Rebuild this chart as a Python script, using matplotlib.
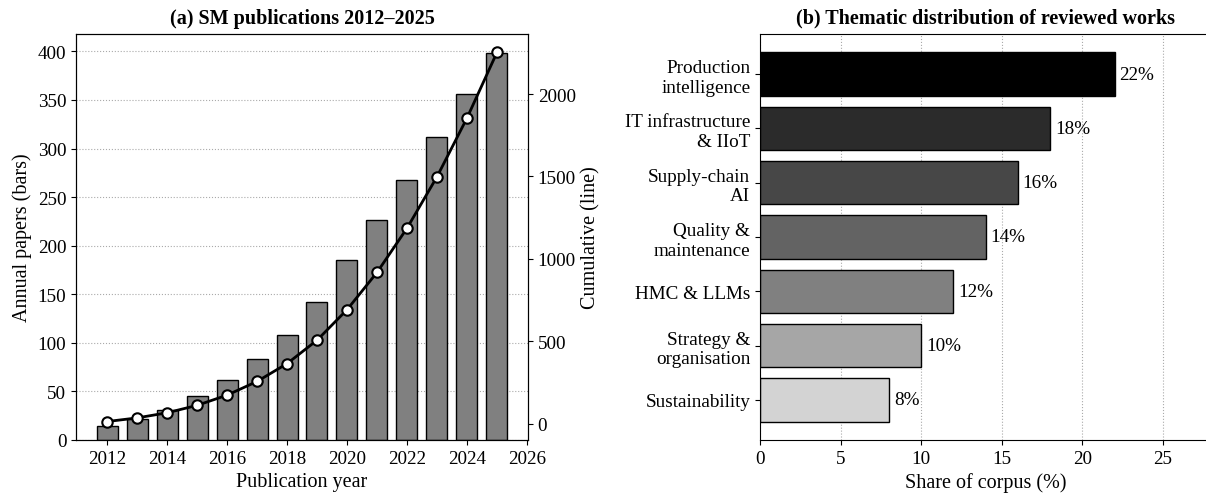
import numpy as np
import matplotlib
matplotlib.use("Agg")
from matplotlib import pyplot as plt

plt.rcParams["font.family"] = ["Liberation Serif", "DejaVu Serif"]

# (a) publications per year
years = [2012, 2013, 2014, 2015, 2016, 2017, 2018, 2019, 2020, 2021, 2022, 2023, 2024, 2025]
annual = [14, 22, 31, 45, 62, 83, 108, 142, 185, 226, 268, 312, 356, 398]
cumulative = np.cumsum(annual)

# (b) thematic shares
themes = ["Production\nintelligence", "IT infrastructure\n& IIoT", "Supply-chain\nAI",
          "Quality &\nmaintenance", "HMC & LLMs", "Strategy &\norganisation", "Sustainability"]
shares = [22, 18, 16, 14, 12, 10, 8]
theme_colors = ["#000000", "#2b2b2b", "#474747", "#636363", "#808080", "#a6a6a6", "#d3d3d3"]

tick_fs = 13.8
label_fs = 14.5
title_fs = 14.5

fig = plt.figure(figsize=(12.06, 5.02), dpi=100)

ax1 = fig.add_axes([76/1206, 61/502, 452/1206, 406/502])
ax1.set_axisbelow(True)
ax1.bar(years, annual, width=0.7, color="#808080", edgecolor="black", linewidth=1)
ax1.grid(axis="y", linestyle=":", color="#aaaaaa", linewidth=0.8)
ax1.set_xticks(range(2012, 2027, 2))
ax1.set_xlabel("Publication year", fontsize=label_fs)
ax1.set_ylabel("Annual papers (bars)", fontsize=label_fs)
ax1.set_title("(a) SM publications 2012\u20132025", fontsize=title_fs, fontweight="bold", pad=8)
ax1.tick_params(labelsize=tick_fs)

ax2 = ax1.twinx()
ax2.plot(years, cumulative, color="black", linewidth=2, marker="o", markersize=7.5,
         markerfacecolor="white", markeredgecolor="black", markeredgewidth=1.5)
ax2.set_ylabel("Cumulative (line)", fontsize=label_fs)
ax2.set_yticks([0, 500, 1000, 1500, 2000])
ax2.tick_params(labelsize=tick_fs)

ax3 = fig.add_axes([760/1206, 61/502, 452/1206, 406/502])
ax3.set_axisbelow(True)
ypos = np.arange(len(themes))
ax3.barh(ypos, shares, height=0.8, color=theme_colors, edgecolor="black", linewidth=1)
for y, v in zip(ypos, shares):
    ax3.text(v + 0.3, y, f"{v}%", va="center", ha="left", fontsize=tick_fs)
ax3.set_yticks(ypos)
ax3.set_yticklabels(themes)
ax3.invert_yaxis()
ax3.set_xlim(0, 452/16.12)
ax3.set_xticks([0, 5, 10, 15, 20, 25])
ax3.grid(axis="x", linestyle=":", color="#aaaaaa", linewidth=0.8)
ax3.set_xlabel("Share of corpus (%)", fontsize=label_fs)
ax3.set_title("(b) Thematic distribution of reviewed works", fontsize=title_fs, fontweight="bold", pad=8)
ax3.tick_params(labelsize=tick_fs)

fig.savefig("out.png", dpi=100)
